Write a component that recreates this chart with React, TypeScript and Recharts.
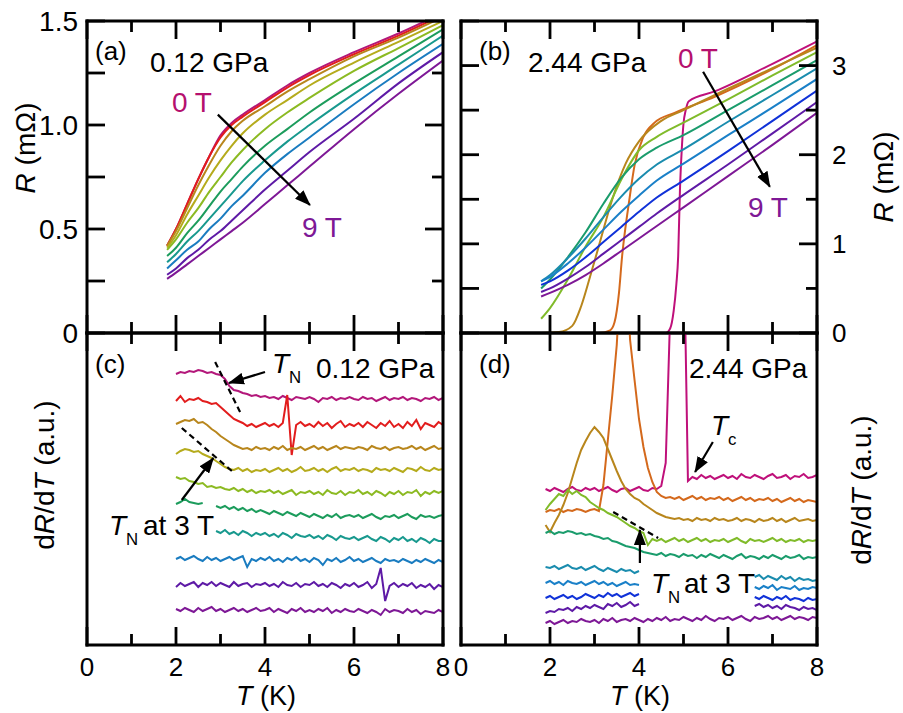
import React from 'react';
import { LineChart, Line, XAxis, YAxis, ReferenceLine } from 'recharts';

const FONT = '"Liberation Sans", Arial, Helvetica, sans-serif';
const W = 903;
const H = 713;

// colours for 0 T ... 9 T
const lowPColors = ['#b3177a', '#e21d1d', '#b8861c', '#b5ab1c', '#8cba22', '#1c9c5c', '#18998e', '#1a7cc0', '#5e1aa6', '#7e1896'];
const highPColors = ['#bf107a', '#d4691c', '#b8861c', '#80bb2a', '#1a9c6c', '#1a8cae', '#1a80c8', '#1032d8', '#5e1aa6', '#7e1896'];

// (a) R(T) at 0.12 GPa, mOhm
const aTemps = [1.8, 2.0, 2.25, 2.5, 2.75, 3.0, 3.25, 3.5, 4.0, 4.5, 5.0, 6.0, 7.0, 8.0];
const aRes = [
  [0.42, 0.50, 0.62, 0.74, 0.85, 0.95, 1.01, 1.05, 1.12, 1.19, 1.25, 1.35, 1.44, 1.54],
  [0.42, 0.50, 0.62, 0.74, 0.85, 0.94, 1.00, 1.04, 1.11, 1.18, 1.24, 1.34, 1.43, 1.53],
  [0.42, 0.49, 0.60, 0.71, 0.81, 0.90, 0.97, 1.02, 1.09, 1.16, 1.22, 1.33, 1.42, 1.52],
  [0.41, 0.47, 0.57, 0.66, 0.75, 0.83, 0.90, 0.96, 1.05, 1.12, 1.19, 1.30, 1.40, 1.50],
  [0.40, 0.45, 0.53, 0.60, 0.68, 0.75, 0.82, 0.88, 0.98, 1.06, 1.13, 1.26, 1.37, 1.48],
  [0.37, 0.41, 0.48, 0.54, 0.61, 0.68, 0.74, 0.80, 0.90, 0.98, 1.06, 1.20, 1.33, 1.46],
  [0.34, 0.38, 0.44, 0.49, 0.55, 0.61, 0.67, 0.73, 0.83, 0.92, 1.00, 1.15, 1.29, 1.43],
  [0.31, 0.35, 0.40, 0.44, 0.50, 0.55, 0.61, 0.66, 0.77, 0.86, 0.94, 1.10, 1.25, 1.39],
  [0.28, 0.31, 0.36, 0.40, 0.45, 0.49, 0.54, 0.59, 0.69, 0.78, 0.87, 1.03, 1.20, 1.35],
  [0.26, 0.29, 0.33, 0.37, 0.41, 0.45, 0.49, 0.53, 0.62, 0.71, 0.80, 0.98, 1.15, 1.31],
];

// (b) R(T) at 2.44 GPa, mOhm
const bNormalTemps = [1.8, 2.0, 2.4, 2.8, 3.2, 3.6, 4.0, 4.4, 5.0, 6.0, 7.0, 8.0];
const bTemps = [
  [1.8, 4.6, 4.7, 4.78, 4.84, 4.88, 4.92, 4.96, 5.0, 5.05, 5.12, 5.7, 7.0, 8.0],
  [1.8, 3.1, 3.35, 3.45, 3.55, 3.62, 3.7, 3.77, 3.9, 4.1, 4.35, 4.8, 5.7, 7.0, 8.0],
  [1.8, 2.2, 2.5, 2.7, 2.9, 3.1, 3.4, 3.7, 4.0, 4.5, 5.0, 6.0, 7.0, 8.0],
  bNormalTemps, bNormalTemps, bNormalTemps, bNormalTemps, bNormalTemps, bNormalTemps, bNormalTemps,
];
const bRes = [
  [0, 0, 0.05, 0.25, 0.55, 0.86, 1.6, 2.05, 2.35, 2.5, 2.6, 2.71, 3.02, 3.27],
  [0, 0, 0.03, 0.12, 0.45, 0.86, 1.2, 1.45, 1.88, 2.2, 2.36, 2.47, 2.65, 2.96, 3.23],
  [0, 0.01, 0.08, 0.3, 0.63, 0.98, 1.5, 1.9, 2.15, 2.38, 2.5, 2.74, 2.97, 3.2],
  [0.16, 0.28, 0.6, 0.97, 1.3, 1.72, 2.05, 2.2, 2.36, 2.62, 2.89, 3.15],
  [0.5, 0.6, 0.85, 1.13, 1.45, 1.74, 1.95, 2.08, 2.22, 2.5, 2.78, 3.06],
  [0.58, 0.65, 0.84, 1.06, 1.3, 1.53, 1.73, 1.89, 2.06, 2.37, 2.67, 2.97],
  [0.58, 0.63, 0.78, 0.96, 1.16, 1.36, 1.54, 1.71, 1.9, 2.22, 2.53, 2.85],
  [0.54, 0.58, 0.70, 0.85, 1.02, 1.19, 1.36, 1.52, 1.71, 2.04, 2.38, 2.72],
  [0.46, 0.50, 0.61, 0.74, 0.89, 1.04, 1.19, 1.34, 1.55, 1.89, 2.24, 2.59],
  [0.41, 0.45, 0.54, 0.65, 0.78, 0.92, 1.06, 1.2, 1.41, 1.76, 2.11, 2.47],
];

// (c) dR/dT at 0.12 GPa, arbitrary units, curves shifted for clarity
const cTemps = [2.0, 2.1, 2.2, 2.3, 2.4, 2.5, 2.6, 2.7, 2.8, 2.9, 3.0, 3.1, 3.2, 3.3, 3.4, 3.5, 3.6, 3.7, 3.8, 3.9,
  4.0, 4.1, 4.2, 4.3, 4.4, 4.5, 4.6, 4.7, 4.8, 4.9, 5.0, 5.1, 5.2, 5.3, 5.4, 5.5, 5.6, 5.7, 5.8, 5.9,
  6.0, 6.1, 6.2, 6.3, 6.4, 6.5, 6.6, 6.7, 6.8, 6.9, 7.0, 7.1, 7.2, 7.3, 7.4, 7.5, 7.6, 7.7, 7.8, 7.9, 8.0];
const cSignal: (number | null)[][] = [
  [271, 273, 272, 274, 273, 275, 274, 272, 273, 271, 270, 266, 259, 255, 254, 252, 251, 249, 250, 248,
    249, 247, 248, 246, 249, 247, 245, 248, 247, 246, 248, 246, 243, 247, 246, 248, 245, 247, 246, 248,
    246, 245, 248, 246, 247, 244, 246, 248, 245, 247, 246, 248, 245, 247, 246, 244, 247, 246, 248, 245, 247],
  [244, 249, 243, 246, 245, 247, 244, 243, 241, 242, 238, 234, 230, 226, 224, 222, 219, 221, 218, 220,
    222, 219, 221, 218, 222, 250, 190, 220, 223, 219, 221, 218, 223, 219, 222, 217, 221, 224, 218, 221,
    219, 222, 218, 223, 220, 217, 222, 219, 224, 218, 221, 217, 223, 219, 225, 216, 222, 220, 218, 223, 220],
  [221, 223, 225, 224, 226, 222, 223, 220, 216, 213, 209, 206, 203, 200, 198, 196, 197, 195, 198, 196,
    197, 195, 198, 196, 199, 195, 197, 196, 198, 195, 197, 199, 196, 198, 195, 197, 199, 196, 198, 197,
    196, 198, 197, 195, 199, 197, 196, 198, 195, 197, 198, 196, 197, 199, 196, 198, 195, 197, 199, 196, 197],
  [191, 194, 196, 195, 193, 194, 191, 189, 187, 184, 181, 178, 176, 175, 177, 174, 176, 173, 175, 174,
    176, 173, 175, 177, 174, 176, 173, 175, 178, 174, 175, 177, 174, 176, 173, 176, 178, 174, 176, 175,
    177, 174, 176, 175, 173, 177, 175, 176, 174, 177, 175, 173, 177, 176, 174, 178, 175, 174, 177, 175, 176],
  [168, 166, 167, 164, 163, 161, 162, 158, 159, 157, 158, 156, 155, 157, 154, 156, 153, 155, 152, 154,
    153, 155, 152, 154, 151, 153, 155, 150, 153, 152, 154, 151, 153, 150, 155, 152, 151, 154, 150, 153,
    152, 155, 151, 153, 150, 154, 152, 149, 153, 151, 154, 150, 153, 152, 155, 149, 153, 151, 154, 152, 154],
  [141, 143, 146, 143, 142, 141, 142, null, null, 139, 137, 139, 136, 138, 135, 137, 134, 136, 133, 135,
    133, 131, 134, 132, 130, 133, 131, 129, 132, 130, 128, 131, 129, 127, 130, 128, 131, 127, 129, 130,
    128, 130, 127, 129, 131, 128, 126, 129, 128, 130, 127, 129, 131, 128, 126, 130, 128, 129, 127, 129, 130],
  [null, null, null, null, null, null, null, null, null, 114, 112, 115, 111, 113, 110, 114, 112, 109, 112, 110,
    112, 109, 111, 108, 112, 110, 107, 111, 109, 108, 110, 107, 109, 106, 110, 108, 105, 109, 107, 106,
    108, 105, 107, 109, 106, 104, 108, 106, 103, 107, 105, 108, 104, 106, 103, 107, 105, 102, 106, 104, 104],
  [86, 88, 85, 87, 89, 86, 84, 88, 85, 87, 84, 86, 88, 85, 87, 89, 78, 86, 84, 87,
    85, 88, 84, 86, 83, 87, 85, 88, 84, 86, 83, 87, 85, 80, 86, 84, 87, 83, 85, 88,
    84, 86, 83, 85, 87, 84, 82, 86, 84, 85, 83, 86, 84, 82, 85, 83, 86, 84, 82, 85, 83],
  [58, 62, 59, 61, 63, 58, 62, 60, 63, 59, 62, 60, 58, 63, 59, 61, 62, 58, 61, 60,
    62, 59, 61, 58, 63, 60, 59, 62, 58, 61, 60, 63, 59, 61, 58, 62, 60, 57, 61, 59,
    62, 58, 60, 63, 57, 61, 77, 44, 59, 62, 58, 61, 59, 62, 57, 60, 58, 61, 56, 60, 58],
  [36, 34, 37, 35, 33, 37, 34, 36, 38, 34, 36, 33, 35, 37, 34, 36, 33, 35, 37, 34,
    35, 37, 33, 36, 34, 32, 36, 34, 37, 33, 35, 33, 36, 34, 37, 32, 35, 33, 36, 34,
    33, 36, 34, 32, 35, 33, 30, 36, 33, 35, 34, 32, 36, 33, 35, 31, 34, 33, 32, 35, 33],
];

// (d) dR/dT at 2.44 GPa, arbitrary units, curves shifted for clarity
const dTemps = [1.9, 2.0, 2.1, 2.2, 2.3, 2.4, 2.5, 2.6, 2.7, 2.8, 2.9, 3.0, 3.1, 3.2, 3.3, 3.4, 3.5, 3.6, 3.7, 3.8,
  3.9, 4.0, 4.1, 4.2, 4.3, 4.4, 4.5, 4.6, 4.7, 4.8, 4.9, 5.0, 5.1, 5.2, 5.3, 5.4, 5.5, 5.6, 5.7, 5.8,
  5.9, 6.0, 6.1, 6.2, 6.3, 6.4, 6.5, 6.6, 6.7, 6.8, 6.9, 7.0, 7.1, 7.2, 7.3, 7.4, 7.5, 7.6, 7.7, 7.8, 7.9, 8.0];
const dSignal = [
  [156, 154, 157, 155, 153, 156, 158, 155, 154, 157, 155, 157, 154, 156, 158, 155, 153, 156, 157, 154,
    156, 158, 155, 154, 157, 156, 159, 182, 330, 420, 430, 425, 164, 168, 166, 170, 167, 169, 166, 168,
    170, 167, 169, 166, 171, 168, 167, 170, 168, 166, 169, 171, 167, 168, 170, 166, 169, 168, 171, 167, 168, 170],
  [133, 135, 134, 136, 133, 135, 134, 136, 135, 133, 135, 136, 134, 160, 205, 250, 300, 380, 390, 305,
    265, 226, 198, 177, 163, 153, 149, 147, 148, 146, 148, 145, 147, 149, 146, 148, 145, 147, 146, 148,
    145, 147, 144, 146, 148, 145, 147, 144, 146, 145, 147, 144, 146, 143, 145, 147, 144, 146, 143, 145, 144, 143],
  [120, 113, 122, 130, 140, 152, 167, 182, 195, 204, 212, 218, 213, 207, 196, 185, 174, 164, 156, 151,
    147, 145, 141, 138, 135, 132, 130, 128, 127, 126, 127, 125, 126, 124, 127, 125, 126, 124, 127, 125,
    126, 124, 125, 127, 124, 126, 125, 123, 126, 124, 125, 127, 124, 126, 123, 125, 127, 124, 125, 126, 124, 125],
  [135, 141, 146, 151, 149, 155, 151, 154, 150, 148, 143, 140, 137, 135, 132, 130, 128, 125, 122, 119,
    117, 114, 112, 100, 106, 104, 106, 103, 105, 107, 104, 106, 103, 105, 107, 104, 106, 103, 105, 104,
    106, 103, 105, 107, 104, 102, 106, 104, 105, 103, 105, 107, 104, 106, 103, 105, 104, 106, 103, 105, 104, 105],
  [112, 114, 111, 113, 112, 114, 113, 111, 112, 110, 111, 109, 108, 106, 107, 104, 103, 101, 99, 98,
    97, 95, 93, 92, 91, 90, 92, 89, 91, 90, 88, 91, 89, 90, 87, 90, 88, 91, 89, 87,
    90, 88, 86, 89, 91, 87, 89, 88, 86, 89, 87, 90, 88, 86, 89, 87, 88, 90, 86, 88, 87, 88],
  [22, 24, 21, 23, 25, 22, 24, 23, 26, 24, 23, 25, 22, 26, 24, 27, 23, 25, 26, 24,
    27, 25, 23, 26, 24, 27, 25, 28, 24, 26, 25, 28, 26, 24, 27, 25, 29, 26, 24, 27,
    26, 28, 25, 27, 29, 26, 24, 28, 26, 27, 29, 26, 28, 25, 27, 29, 26, 28, 27, 25, 28, 27],
];
// fields drawn by dSignal rows above
const dFields = [0, 1, 2, 3, 4, 9];

// 5 T ... 8 T in (d) are shown only below 4 K and above 6.6 K
const dLowTemps = [1.9, 2.0, 2.1, 2.2, 2.3, 2.4, 2.5, 2.6, 2.7, 2.8, 2.9, 3.0, 3.1, 3.2, 3.3, 3.4, 3.5, 3.6, 3.7, 3.8, 3.9, 4.0];
const dHighTemps = [6.6, 6.7, 6.8, 6.9, 7.0, 7.1, 7.2, 7.3, 7.4, 7.5, 7.6, 7.7, 7.8, 7.9, 8.0];
const dLowSignal = [
  [78, 77, 79, 76, 78, 80, 77, 76, 78, 75, 77, 79, 76, 74, 77, 75, 73, 76, 74, 75, 72, 74],
  [62, 64, 61, 63, 60, 64, 62, 61, 63, 60, 62, 64, 61, 63, 60, 62, 59, 61, 63, 60, 61, 60],
  [47, 49, 46, 48, 50, 47, 49, 46, 48, 51, 49, 47, 50, 48, 52, 49, 51, 48, 50, 52, 49, 51],
  [32, 34, 33, 36, 35, 37, 34, 38, 36, 39, 37, 40, 38, 36, 41, 39, 42, 38, 40, 43, 39, 41],
];
const dHighSignal = [
  [68, 70, 66, 69, 67, 65, 69, 66, 68, 64, 67, 65, 66, 64, 65],
  [58, 56, 59, 57, 60, 55, 58, 57, 56, 59, 55, 57, 56, 58, 57],
  [48, 46, 49, 47, 45, 48, 46, 49, 45, 47, 46, 44, 47, 45, 46],
  [39, 41, 38, 40, 37, 39, 36, 40, 38, 37, 35, 38, 36, 37, 35],
];
const dSplitFields = [5, 6, 7, 8];

// annotation arrows and guides, in data units [t1, v1, t2, v2]
const aArrow = [2.94, 1.05, 5.01, 0.615];
const bArrow = [5.44, 2.93, 6.94, 1.64];
const cArrows = [[4.0, 273, 3.19, 262], [2.13, 145, 2.84, 187]];
const cGuides = [[2.88, 283, 3.44, 233], [2.13, 217, 3.28, 173]];
const dArrows = [[5.66, 203, 5.26, 173], [4.02, 82, 4.02, 115]];
const dGuides = [[3.42, 133, 4.43, 107]];

const xTicks = [0, 1, 2, 3, 4, 5, 6, 7, 8];
const aYTicks = [0, 0.25, 0.5, 0.75, 1.0, 1.25, 1.5];
const bYTicks = [0, 0.5, 1, 1.5, 2, 2.5, 3, 3.5];
const SIG_MAX = 312;

const toPoints = (ts: number[], vs: (number | null)[]) => ts.map((t, i) => ({ t, v: vs[i] }));

type Side = 'bottom' | 'left' | 'right';

// tick labels; tick marks are drawn in the frame overlay
const labelTick = (side: Side, label: (v: number) => string | null) => (props: any) => {
  const { x, y, payload } = props;
  const text = label(payload.value as number);
  if (text === null) return <g />;
  let tx = x;
  let ty = y + 31;
  let anchor: 'start' | 'middle' | 'end' = 'middle';
  let size = 26;
  if (side === 'left') { tx = x - 9; ty = y + 10; anchor = 'end'; size = 28; }
  if (side === 'right') { tx = x + 15; ty = y + 9; anchor = 'start'; }
  return <text x={tx} y={ty} textAnchor={anchor} fontSize={size} fontFamily={FONT} fill="#000">{text}</text>;
};

const even = (v: number) => v % 2 === 0;
const border = { stroke: '#000', strokeWidth: 3, strokeLinecap: 'square' as const };
const blank = () => <g />;

interface FrameOpts {
  yDomain: [number, number];
  yTicks?: number[];
  rightMajor?: (v: number) => boolean;
  leftLabel?: (v: number) => string | null;
  rightLabel?: (v: number) => string | null;
  xLabels?: boolean;
}

// four axes drawn as a closed frame; each axis keeps a 1px band
const frame = (o: FrameOpts) => [
  <XAxis key="xb" xAxisId="b" dataKey="t" type="number" domain={[0, 8]} ticks={xTicks} interval={0}
    allowDataOverflow height={1} tickSize={0} tickMargin={0} tickLine={false} axisLine={border}
    tick={o.xLabels ? labelTick('bottom', (v) => (even(v) ? String(v) : null)) : blank} />,
  <XAxis key="xt" xAxisId="t" dataKey="t" type="number" orientation="top" domain={[0, 8]} ticks={xTicks}
    interval={0} allowDataOverflow height={1} tickSize={0} tickMargin={0} tickLine={false} axisLine={border}
    tick={blank} />,
  <YAxis key="yl" yAxisId="l" type="number" domain={o.yDomain} ticks={o.yTicks || [0]} interval={0}
    allowDataOverflow width={1} tickSize={0} tickMargin={0} tickLine={false} axisLine={border}
    tick={o.leftLabel ? labelTick('left', o.leftLabel) : blank} />,
  <YAxis key="yr" yAxisId="r" orientation="right" type="number" domain={o.yDomain} ticks={o.yTicks || [0]}
    interval={0} allowDataOverflow width={1} tickSize={0} tickMargin={0} tickLine={false} axisLine={border}
    tick={o.rightLabel ? labelTick('right', o.rightLabel) : blank} />,
];

const arrowDefs = (id: string) => (
  <defs>
    <marker id={id} viewBox="0 0 16 12" refX={15} refY={6} markerWidth={16} markerHeight={12}
      markerUnits="userSpaceOnUse" orient="auto">
      <path d="M0,0 L16,6 L0,12 z" fill="#000" />
    </marker>
  </defs>
);

const segment = (s: number[], key: string, marker?: string) => (
  <ReferenceLine key={key} xAxisId="b" yAxisId="l" ifOverflow="visible"
    segment={[{ x: s[0], y: s[1] }, { x: s[2], y: s[3] }]}
    stroke="#000" strokeWidth={2.2} strokeDasharray={marker ? undefined : '6 4'}
    markerEnd={marker ? `url(#${marker})` : undefined} />
);

const lineProps = {
  xAxisId: 'b', yAxisId: 'l', dataKey: 'v', dot: false, isAnimationActive: false, connectNulls: false,
} as const;

const layer: React.CSSProperties = { position: 'absolute', left: 0, top: 0 };

// plot boxes: x 87..443 / 461..817, y 21..333 / 333..645 (margins leave 1px per axis band)
const topLeft = { left: 86, right: 459, top: 20, bottom: 379 };
const topRight = { left: 460, right: 85, top: 20, bottom: 379 };
const bottomLeft = { left: 86, right: 459, top: 332, bottom: 67 };
const bottomRight = { left: 460, right: 85, top: 332, bottom: 67 };

const aFrame: FrameOpts = {
  yDomain: [0, 1.5], yTicks: aYTicks, rightMajor: (v) => (v * 2) % 1 === 0,
  leftLabel: (v) => ((v * 2) % 1 === 0 ? (v === 0 ? '0' : v.toFixed(1)) : null),
};
const bFrame: FrameOpts = {
  yDomain: [0, 3.5], yTicks: bYTicks, rightMajor: (v) => v % 1 === 0,
  rightLabel: (v) => (v % 1 === 0 && v < 3.5 ? String(v) : null),
};
const sigFrame: FrameOpts = { yDomain: [0, SIG_MAX], xLabels: true };

type Box = { x0: number; x1: number; y0: number; y1: number; f: FrameOpts };

// pixel boxes of the four panels, for the inward tick marks
const boxes: Box[] = [
  { x0: 87, x1: 443, y0: 21, y1: 333, f: aFrame },
  { x0: 461, x1: 817, y0: 21, y1: 333, f: bFrame },
  { x0: 87, x1: 443, y0: 333, y1: 645, f: sigFrame },
  { x0: 461, x1: 817, y0: 333, y1: 645, f: sigFrame },
];

// inward tick marks of one panel: long on even kelvin, short on odd
function TickMarks({ box }: { box: Box }) {
  const { x0, x1, y0, y1, f } = box;
  const [d0, d1] = f.yDomain;
  const marks: React.ReactElement[] = [];
  for (const t of xTicks) {
    const px = x0 + ((x1 - x0) * t) / 8;
    const len = t % 2 === 0 ? 18 : 11;
    marks.push(<line key={`b${t}`} x1={px} y1={y1} x2={px} y2={y1 - len} />);
    marks.push(<line key={`t${t}`} x1={px} y1={y0} x2={px} y2={y0 + len} />);
  }
  for (const v of f.yTicks || []) {
    const py = y1 - ((y1 - y0) * (v - d0)) / (d1 - d0);
    const rLen = f.rightMajor && !f.rightMajor(v) ? 11 : 18;
    marks.push(<line key={`l${v}`} x1={x0} y1={py} x2={x0 + 18} y2={py} />);
    marks.push(<line key={`r${v}`} x1={x1} y1={py} x2={x1 - rLen} y2={py} />);
  }
  return <g stroke="#000000" strokeWidth={2.8}>{marks}</g>;
}

const PanelA = () => (
  <div style={layer}>
    <LineChart width={W} height={H} margin={topLeft}>
      {arrowDefs('headA')}
      {frame(aFrame)}
      {aRes.map((r, i) => (
        <Line key={i} {...lineProps} data={toPoints(aTemps, r)} type="monotone" stroke={lowPColors[i]} strokeWidth={2} />
      ))}
      {segment(aArrow, 'arrow', 'headA')}
    </LineChart>
  </div>
);

const PanelB = () => (
  <div style={layer}>
    <LineChart width={W} height={H} margin={topRight}>
      {arrowDefs('headB')}
      {frame(bFrame)}
      {bRes.map((r, i) => (
        <Line key={i} {...lineProps} data={toPoints(bTemps[i], r)} type="monotone" stroke={highPColors[i]} strokeWidth={2} />
      ))}
      {segment(bArrow, 'arrow', 'headB')}
    </LineChart>
  </div>
);

const PanelC = () => (
  <div style={layer}>
    <LineChart width={W} height={H} margin={bottomLeft}>
      {arrowDefs('headC')}
      {frame(sigFrame)}
      {cSignal.map((s, i) => (
        <Line key={i} {...lineProps} data={toPoints(cTemps, s)} type="linear" stroke={lowPColors[i]} strokeWidth={2} />
      ))}
      {cGuides.map((g, i) => segment(g, `g${i}`))}
      {cArrows.map((a, i) => segment(a, `a${i}`, 'headC'))}
    </LineChart>
  </div>
);

const PanelD = () => (
  <div style={layer}>
    <LineChart width={W} height={H} margin={bottomRight}>
      {arrowDefs('headD')}
      {frame(sigFrame)}
      {dSplitFields.map((f, i) => (
        <Line key={`lo${f}`} {...lineProps} data={toPoints(dLowTemps, dLowSignal[i])} type="linear" stroke={highPColors[f]} strokeWidth={2} />
      ))}
      {dSplitFields.map((f, i) => (
        <Line key={`hi${f}`} {...lineProps} data={toPoints(dHighTemps, dHighSignal[i])} type="linear" stroke={highPColors[f]} strokeWidth={2} />
      ))}
      {dSignal.map((s, i) => (
        <Line key={i} {...lineProps} data={toPoints(dTemps, s)} type="linear" stroke={highPColors[dFields[i]]} strokeWidth={2} />
      ))}
      {dGuides.map((g, i) => segment(g, `g${i}`))}
      {dArrows.map((a, i) => segment(a, `a${i}`, 'headD'))}
    </LineChart>
  </div>
);

const Sub = ({ x, y, main, sub, size = 28 }: { x: number; y: number; main: string; sub: string; size?: number }) => (
  <g>
    <text x={x} y={y} fontSize={size} fontStyle="italic">{main}</text>
    <text x={x + 17} y={y + 10} fontSize={size * 0.6}>{sub}</text>
  </g>
);

const Labels = () => (
  <svg width={W} height={H} style={{ ...layer, pointerEvents: 'none' }} fontFamily={FONT} fill="#000">
    <TickMarks box={boxes[0]} />
    <TickMarks box={boxes[1]} />
    <TickMarks box={boxes[2]} />
    <TickMarks box={boxes[3]} />
    <text transform="translate(35,148) rotate(-90)" textAnchor="middle" fontSize={28}>
      <tspan fontStyle="italic">R</tspan> (mΩ)
    </text>
    <text transform="translate(893,177) rotate(-90)" textAnchor="middle" fontSize={28}>
      <tspan fontStyle="italic">R</tspan> (mΩ)
    </text>
    <text transform="translate(54,475) rotate(-90)" textAnchor="middle" fontSize={28}>
      d<tspan fontStyle="italic">R</tspan>/d<tspan fontStyle="italic">T</tspan> (a.u.)
    </text>
    <text transform="translate(871,490) rotate(-90)" textAnchor="middle" fontSize={28}>
      d<tspan fontStyle="italic">R</tspan>/d<tspan fontStyle="italic">T</tspan> (a.u.)
    </text>
    <text x={266} y={705} textAnchor="middle" fontSize={27}><tspan fontStyle="italic">T</tspan> (K)</text>
    <text x={640} y={705} textAnchor="middle" fontSize={27}><tspan fontStyle="italic">T</tspan> (K)</text>

    <text x={95} y={60} fontSize={26}>(a)</text>
    <text x={150} y={72} fontSize={28}>0.12 GPa</text>
    <text x={172} y={112} fontSize={28} fill="#b5106e">0 T</text>
    <text x={302} y={237} fontSize={28} fill="#7e1896">9 T</text>

    <text x={479} y={60} fontSize={26}>(b)</text>
    <text x={528} y={72} fontSize={28}>2.44 GPa</text>
    <text x={678} y={68} fontSize={28} fill="#b5106e">0 T</text>
    <text x={748} y={217} fontSize={28} fill="#7e1896">9 T</text>

    <text x={95} y={373} fontSize={26}>(c)</text>
    <Sub x={272} y={373} main="T" sub="N" />
    <text x={316} y={378} fontSize={28}>0.12 GPa</text>
    <Sub x={109} y={535} main="T" sub="N" />
    <text x={143} y={535} fontSize={28}>at 3 T</text>

    <text x={479} y={373} fontSize={26}>(d)</text>
    <text x={689} y={378} fontSize={28}>2.44 GPa</text>
    <Sub x={711} y={435} main="T" sub="c" />
    <Sub x={651} y={593} main="T" sub="N" />
    <text x={684} y={593} fontSize={28}>at 3 T</text>
  </svg>
);

export default function App() {
  return (
    <div style={{ position: 'absolute', left: 0, top: 0, width: W, height: H, background: '#fff' }}>
      <PanelA />
      <PanelB />
      <PanelC />
      <PanelD />
      <Labels />
    </div>
  );
}
